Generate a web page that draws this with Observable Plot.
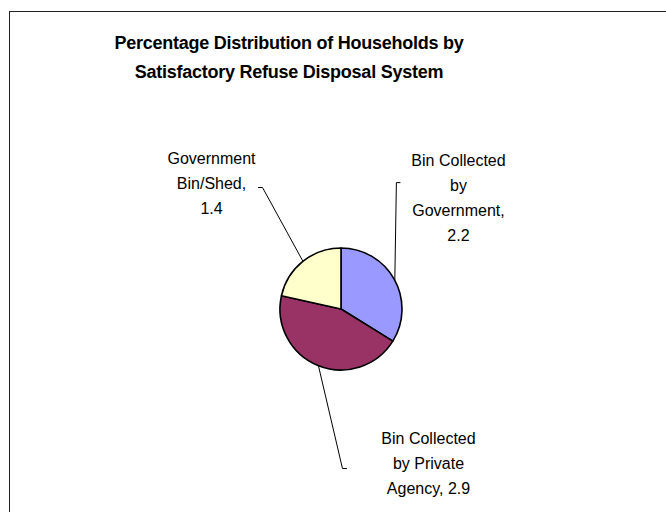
<!DOCTYPE html>
<html><head><meta charset="utf-8">
<script src="https://cdn.jsdelivr.net/npm/d3@7"></script>
<script src="https://cdn.jsdelivr.net/npm/@observablehq/plot@0.6"></script>
<style>
body{margin:0;background:#fff;}
#chart{position:relative;width:666px;height:512px;overflow:hidden;font-family:"Liberation Sans",Arial,sans-serif;}
#frame{position:absolute;left:9px;top:11px;width:720px;height:600px;border:1.5px solid #222;box-sizing:border-box;}
#title{position:absolute;left:0;width:578px;top:29px;text-align:center;font-weight:bold;font-size:18px;letter-spacing:-0.25px;line-height:29px;color:#000;}
#chart svg{position:absolute;left:0;top:0;}
</style></head><body>
<div id="chart"><div id="frame"></div><div id="title">Percentage Distribution of Households by<br>Satisfactory Refuse Disposal System</div></div>
<script>
// ---- data ----
const categories = ["Bin Collected by Government", "Bin Collected by Private Agency", "Government Bin/Shed"];
const values = [2.2, 2.9, 1.4];
const wrappedNames = ["Bin Collected\nby\nGovernment", "Bin Collected\nby Private\nAgency", "Government\nBin/Shed"];
const valueSeparators = ["\n", " ", "\n"];
const colors = ["#9999FF", "#993366", "#FFFFCC"];

// ---- layout (in pie-radius units, pie centre = 0,0) ----
const labelAnchors = [[1.918, 1.865], [1.426, -2.49], [-2.131, 2.10]];
const leaderElbows = [[0.9, 2.08], [0.016, -2.607], [-1.295, 2.0]];
const leaderTicks = [0.06, 0.066, -0.066];

const arcs = d3.pie().sort(null).value(d => d)(values);
const slices = categories.map((c, i) => ({
  category: c, value: values[i], color: colors[i],
  start: arcs[i].startAngle, end: arcs[i].endAngle,
  mid: (arcs[i].startAngle + arcs[i].endAngle) / 2
}));

const labels = slices.map((s, i) => ({
  x: labelAnchors[i][0], y: labelAnchors[i][1],
  text: `${wrappedNames[i]},${valueSeparators[i]}${s.value}`
}));

const leaders = [];
slices.forEach((s, i) => {
  const [ex, ey] = leaderElbows[i];
  leaders.push({id: i, x: Math.sin(s.mid), y: Math.cos(s.mid)});
  leaders.push({id: i, x: ex, y: ey});
  leaders.push({id: i, x: ex + leaderTicks[i], y: ey});
});

const pieMark = (index, scales, values_, dimensions) => {
  const cx = scales.x(0), cy = scales.y(0), R = scales.x(1) - scales.x(0);
  const arc = d3.arc().innerRadius(0).outerRadius(R);
  const g = d3.create("svg:g").attr("transform", `translate(${cx},${cy})`);
  g.selectAll("path").data(slices).join("path")
    .attr("d", d => arc({startAngle: d.start, endAngle: d.end}))
    .attr("fill", d => d.color)
    .attr("stroke", "#000")
    .attr("stroke-width", 1.6)
    .attr("stroke-linejoin", "round");
  return g.node();
};

const chart = Plot.plot({
  width: 666, height: 512,
  margin: 0,
  style: {background: "transparent", fontFamily: "'Liberation Sans', Arial, sans-serif", overflow: "visible"},
  x: {domain: [-1, 1], range: [280, 402], axis: null},
  y: {domain: [-1, 1], range: [370, 248], axis: null},
  marks: [
    Plot.line(leaders, {x: "x", y: "y", z: "id", stroke: "#000", strokeWidth: 1}),
    pieMark,
    Plot.text(labels, {x: "x", y: "y", text: "text", fontSize: 16, lineHeight: 1.5625, textAnchor: "middle", fill: "#000"})
  ]
});
document.getElementById("chart").appendChild(chart);
</script>
</body></html>
